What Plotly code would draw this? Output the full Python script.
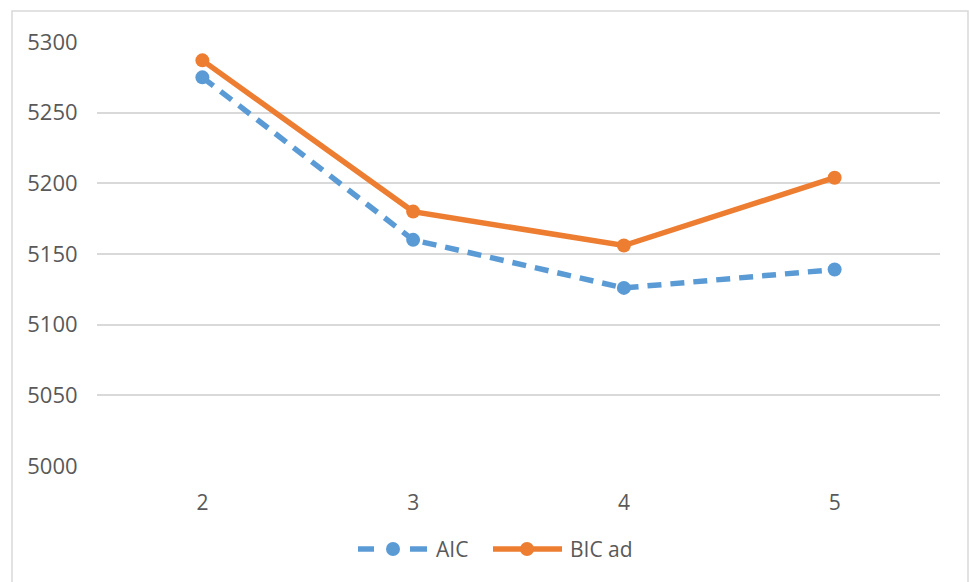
import plotly.graph_objects as go

# Number of clusters and the information criteria for each model
clusters = ["2", "3", "4", "5"]
aic = [5275, 5160, 5126, 5139]
bic_ad = [5287, 5180, 5156, 5204]
y_ticks = [5000, 5050, 5100, 5150, 5200, 5250, 5300]
series_names = ["AIC", "BIC ad"]

BLUE = "#5B9BD5"
ORANGE = "#ED7D31"
TEXT = "#595959"
GRID = "#D9D9D9"

W, H = 969, 582
ML, MR, MT, MB = 97, 29, 42, 116
PW, PH = W - ML - MR, H - MT - MB


def px(x):
    """pixel column -> paper x"""
    return (x - ML) / PW


def py(y):
    """pixel row -> paper y"""
    return (H - MB - y) / PH


fig = go.Figure()
fig.add_trace(go.Scatter(
    x=clusters, y=aic, name=series_names[0], mode="lines+markers",
    line=dict(color=BLUE, width=5.5, dash="14px,9px"),
    marker=dict(color=BLUE, size=14),
))
fig.add_trace(go.Scatter(
    x=clusters, y=bic_ad, name=series_names[1], mode="lines+markers",
    line=dict(color=ORANGE, width=5.5),
    marker=dict(color=ORANGE, size=14),
))

shapes = []
# light outer frame around the chart
shapes.append(dict(type="rect", xref="paper", yref="paper",
                   x0=px(12), x1=px(968), y0=py(600), y1=py(11),
                   line=dict(color=GRID, width=1.5), fillcolor="rgba(0,0,0,0)",
                   layer="below"))

# legend keys drawn below the plot, Excel-style with long line samples
ly = 549
r = 7
# AIC: dash - marker - dash
for x0, x1 in [(358, 374), (410, 427)]:
    shapes.append(dict(type="line", xref="paper", yref="paper",
                       x0=px(x0), x1=px(x1), y0=py(ly), y1=py(ly),
                       line=dict(color=BLUE, width=5.5)))
shapes.append(dict(type="circle", xref="paper", yref="paper",
                   x0=px(393 - r), x1=px(393 + r), y0=py(ly + r), y1=py(ly - r),
                   fillcolor=BLUE, line=dict(color=BLUE, width=0)))
# BIC ad: solid line with marker
shapes.append(dict(type="line", xref="paper", yref="paper",
                   x0=px(493), x1=px(562), y0=py(ly), y1=py(ly),
                   line=dict(color=ORANGE, width=5.5)))
shapes.append(dict(type="circle", xref="paper", yref="paper",
                   x0=px(527 - r), x1=px(527 + r), y0=py(ly + r), y1=py(ly - r),
                   fillcolor=ORANGE, line=dict(color=ORANGE, width=0)))

annotations = [
    dict(text=series_names[0], xref="paper", yref="paper", x=px(434), y=py(ly),
         xanchor="left", yanchor="middle", showarrow=False,
         font=dict(size=21, color=TEXT)),
    dict(text=series_names[1], xref="paper", yref="paper", x=px(568), y=py(ly),
         xanchor="left", yanchor="middle", showarrow=False,
         font=dict(size=21, color=TEXT)),
]

fig.update_layout(
    width=W, height=H,
    margin=dict(l=ML, r=MR, t=MT, b=MB),
    paper_bgcolor="white", plot_bgcolor="white",
    font=dict(family="Open Sans, Noto Sans, sans-serif", size=21, color=TEXT),
    showlegend=False,
    shapes=shapes,
    annotations=annotations,
    xaxis=dict(type="category", range=[-0.5, 3.5], showgrid=False, zeroline=False,
               showline=False, ticks="outside", ticklen=18, tickcolor="rgba(0,0,0,0)",
               tickfont=dict(size=21, color=TEXT)),
    yaxis=dict(range=[5000, 5300], tickvals=y_ticks, showgrid=True, gridcolor=GRID,
               gridwidth=2, zeroline=False, showline=False, ticks="outside", ticklen=14,
               tickcolor="rgba(0,0,0,0)", tickfont=dict(size=22, color=TEXT)),
)

fig.write_html("out.html")
